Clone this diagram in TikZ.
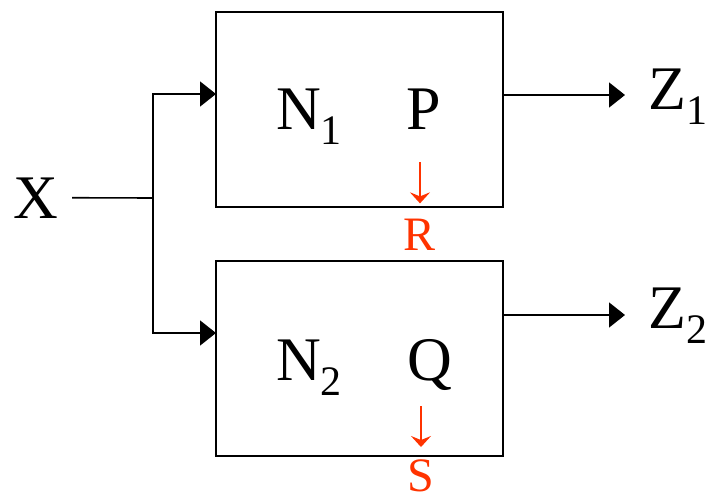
\documentclass[tikz,border=0pt]{standalone}
\usepackage{fontspec}
\setmainfont{Liberation Serif}
\usetikzlibrary{arrows.meta,positioning}
\definecolor{outred}{HTML}{FF3300}
% lowered subscript digit
\newcommand{\lowsub}[1]{\raisebox{-15pt}{\fontsize{42}{42}\selectfont #1}}
\tikzset{
  block/.style = {draw, line width=2pt, minimum width=287pt, minimum height=195pt, inner sep=0pt},
  sig/.style   = {font=\rmfamily\fontsize{62}{62}\selectfont, inner sep=0pt},
  outsig/.style = {font=\rmfamily\fontsize{48}{48}\selectfont, text=outred, inner sep=0pt},
  wire/.style  = {line width=1.6pt},
  conn/.style  = {wire, -{Triangle[length=16pt,width=25pt]}},
  flow/.style  = {draw=outred, line width=1.8pt, -{Stealth[length=11pt,width=20pt,inset=4pt]}}
}

\begin{document}
\begin{tikzpicture}[x=1pt,y=-1pt]
\useasboundingbox (0,0) rectangle (707,500);

% the two blocks
\node[block] (n1) at (359.5,109.5) {};
\node[block] (n2) at (359.5,358) {};

% block contents
\node[sig, anchor=base west] (n1lab) at (276,130) {N\lowsub{1}};
\node[sig, anchor=base] (P) at (424,130) {P};
\node[sig, anchor=base west] (n2lab) at (276,380) {N\lowsub{2}};
\node[sig, anchor=base] (Q) at (429.5,380) {Q};

% side outputs
\node[outsig, anchor=base] (R) at (420,250) {R};
\node[outsig, anchor=base] (S) at (421,491) {S};
\draw[flow] ([yshift=56pt]R.north) -- ([yshift=15pt]R.north);
\draw[flow] ([yshift=53pt]S.north) -- ([yshift=12pt]S.north);

% input and outputs
\node[sig, anchor=base] (X) at (35.5,218) {X};
\node[sig, anchor=base west] (Z1) at (648,110) {Z\lowsub{1}};
\node[sig, anchor=base west] (Z2) at (648,328) {Z\lowsub{2}};

\coordinate (split) at (153,198);
\coordinate (in1) at (216,94);
\coordinate (in2) at (216,333);
\coordinate (out1) at (625,95);
\coordinate (out2) at (625,315);

\draw[wire, shorten <=14pt] (X.east) -- (split);
\draw[conn] (split) |- (in1);
\draw[conn] (split) |- (in2);
\draw[conn] (n1.east |- out1) -- (out1);
\draw[conn] (n2.east |- out2) -- (out2);
\end{tikzpicture}
\end{document}
